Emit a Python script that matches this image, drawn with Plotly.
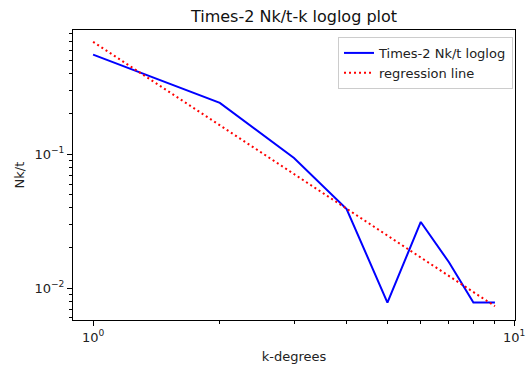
import plotly.graph_objects as go

# degree k and the fraction of nodes with that degree
k_degrees = [1, 2, 3, 4, 5, 6, 7, 8, 9]
nk_over_t = [0.5547, 0.2422, 0.09375, 0.03906, 0.007813, 0.03125, 0.01563, 0.007813, 0.007813]

# fitted power-law line evaluated at each degree
regression = [0.691, 0.165, 0.0711, 0.0394, 0.02475, 0.0170, 0.01234, 0.0094, 0.00734]

FONT = "DejaVu Sans"

fig = go.Figure()
fig.add_trace(go.Scatter(
    x=k_degrees, y=nk_over_t, mode="lines", name="Times-2 Nk/t loglog",
    line=dict(color="#0000ff", width=2),
))
fig.add_trace(go.Scatter(
    x=k_degrees, y=regression, mode="lines", name="regression line",
    line=dict(color="#ff0000", width=2, dash="2px,3px"),
))

x_minor = [2, 3, 4, 5, 6, 7, 8, 9]
y_minor = [0.006, 0.007, 0.008, 0.009,
           0.02, 0.03, 0.04, 0.05, 0.06, 0.07, 0.08, 0.09,
           0.2, 0.3, 0.4, 0.5, 0.6, 0.7, 0.8]

axis_common = dict(
    showgrid=False, zeroline=False, automargin=False,
    showline=True, mirror=True, linecolor="black", linewidth=1,
    ticks="outside", ticklen=5, tickwidth=1, tickcolor="black",
    tickfont=dict(family=FONT, size=13, color="#222222"),
)

fig.update_layout(
    width=528, height=370,
    margin=dict(l=73, r=13, t=30, b=50),
    paper_bgcolor="white", plot_bgcolor="white",
    font=dict(family=FONT, size=13, color="#222222"),
    title=dict(text="Times-2 Nk/t-k loglog plot", x=0.5, xref="paper", xanchor="center",
               y=0.957, yref="container", yanchor="middle",
               font=dict(family=FONT, size=16, color="#111111")),
    xaxis=dict(
        type="log", range=[-0.0477, 1.0019],
        tickmode="array", tickvals=[1, 10],
        ticktext=["10<sup>0</sup>", "10<sup>1</sup>"],
        minor=dict(tickmode="array", tickvals=x_minor, ticks="outside",
                   ticklen=3, tickcolor="black", tickwidth=1, showgrid=False),
        title=dict(text="k-degrees", font=dict(family=FONT, size=13, color="#222222"), standoff=8),
        **axis_common,
    ),
    yaxis=dict(
        type="log", range=[-2.237, -0.072],
        tickmode="array", tickvals=[0.01, 0.1],
        ticktext=["10<sup>\u22122</sup>", "10<sup>\u22121</sup>"],
        minor=dict(tickmode="array", tickvals=y_minor, ticks="outside",
                   ticklen=3, tickcolor="black", tickwidth=1, showgrid=False),
        title=dict(text="Nk/t", font=dict(family=FONT, size=13, color="#222222"), standoff=6),
        **axis_common,
    ),
    legend=dict(
        x=0.9955, y=0.976, xanchor="right", yanchor="top",
        bgcolor="rgba(255,255,255,0.8)", bordercolor="#cccccc", borderwidth=1,
        font=dict(family=FONT, size=13, color="#222222"),
        tracegroupgap=0, itemwidth=30,
    ),
    showlegend=True,
)

fig.write_html("out.html")
